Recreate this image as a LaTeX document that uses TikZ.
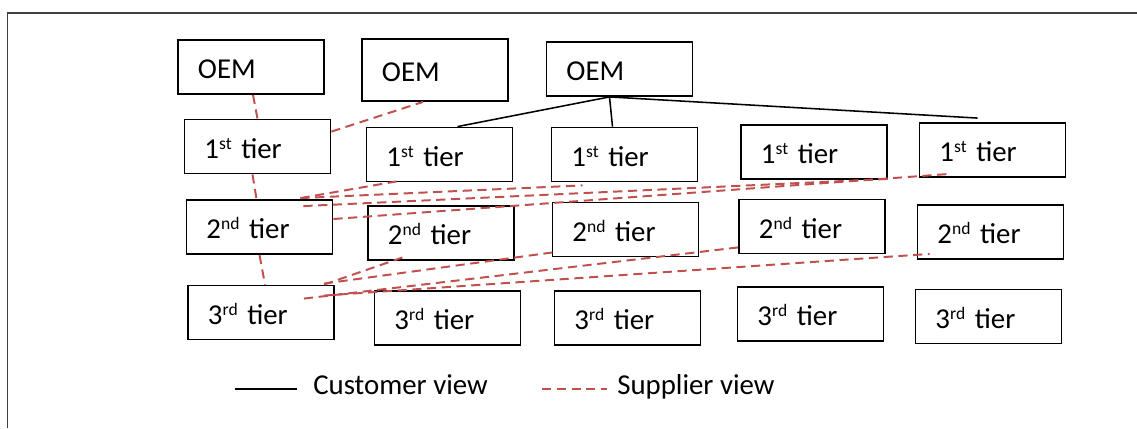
\documentclass[tikz,border=0pt]{standalone}
\usepackage{fontspec}
\setmainfont{Carlito}
\usetikzlibrary{calc}
\definecolor{tierLine}{RGB}{0,0,0}
\definecolor{tierDash}{RGB}{192,80,77}
\definecolor{tierFrame}{RGB}{64,64,64}
\definecolor{tierText}{RGB}{0,0,0}
\newcommand\tiersup[1]{\raisebox{6.5pt}{\fontsize{12.5}{12}\selectfont #1}}

\begin{document}
\begin{tikzpicture}[x=.025cm,y=-.025cm,
      tier/.style={draw=tierLine, line width=1.3pt, minimum width=3.65cm,
        minimum height=1.35cm, text width=2.65cm, inner xsep=.5cm,
        inner ysep=0pt, align=left, text=tierText,
        text height=17pt, text depth=0pt,
        font=\fontsize{20.5}{24}\selectfont},
      customer/.style={draw=tierLine, line width=1.1pt},
      supplier/.style={draw=tierDash, line width=1.4pt,
        dash pattern=on 6.5pt off 4pt},
      legend/.style={font=\fontsize{20.5}{24}\selectfont, text=tierText,
        anchor=base west, inner sep=0pt}]
      \useasboundingbox (0,0) rectangle (1137,428);
      \draw[tierFrame, line width=1.1pt] (1137,13) -- (7.5,13) -- (7.5,428);

      % manufacturers
      \node[tier] (oemA) at (251,67) {OEM};
      \node[tier, minimum height=1.55cm] (oemB) at (435,70) {OEM};
      \node[tier] (oemC) at (619.5,69) {OEM};

      % one row per tier
      \foreach \n/\x/\y in {a/257.5/146.5, b/439.5/154.5, c/624.5/154.5,
          d/814/152, e/992.5/150}
        \node[tier] (t1\n) at (\x,\y) {1\tiersup{st} tier};
      \foreach \n/\x/\y in {a/259.5/227, b/441/233, c/625.5/229.5,
          d/812/226.5, e/990.5/232}
        \node[tier] (t2\n) at (\x,\y) {2\tiersup{nd} tier};
      \foreach \n/\x/\y in {a/261/312.5, b/447.5/318, c/627.5/318,
          d/810.5/314, e/988.5/316.5}
        \node[tier] (t3\n) at (\x,\y) {3\tiersup{rd} tier};

      % customer view
      \coordinate (hub) at ($(oemC.south)+(-10,0)$);
      \draw[customer] (hub) -- ($(t1b.north)+(18,0)$);
      \draw[customer] (hub) -- ($(t1c.north)+(-12,0)$);
      \draw[customer] (hub) -- ($(t1e.north)+(-15,-4)$);

      % supplier view
      \draw[supplier] ($(oemA.south)+(2,0)$) -- (t1a.north);
      \draw[supplier] ($(t1a.south)+(-5,0)$) -- ($(t2a.north)+(-3,0)$);
      \draw[supplier] (t2a.south) -- ($(t3a.north)+(4,0)$);
      \draw[supplier] ($(t1a.north east)+(0,13)$) -- ($(oemB.south)+(-12,0)$);
      \draw[supplier] ($(t2a.north east)+(-33,-1)$) -- ($(t1b.south)+(-43,-1)$);
      \draw[supplier] ($(t2a.north east)+(-33,-1)$) -- ($(t1c.south)+(-42,3)$);
      \draw[supplier] ($(t2a.north east)+(-30,7)$) -- ($(t1d.south east)+(0,-1)$);
      \draw[supplier] ($(t2a.east)+(0,-8)$) -- ($(t1e.south west)+(31,-4)$);
      \draw[supplier] ($(t3a.north east)+(-11,0)$) -- ($(t2b.south)+(-34,-5)$);
      \draw[supplier] ($(t3a.north east)+(-11,-1)$) -- ($(t2c.south west)+(1,-5)$);
      \draw[supplier] ($(t3a.north east)+(-31,14)$) -- ($(t2d.south west)+(0,-7)$);
      \draw[supplier] ($(t3a.north east)+(-11,11)$) -- ($(t2e.south west)+(13,-6)$);

      % legend
      \node[legend] (custKey) at (313,394) {Customer view};
      \node[legend] (suppKey) at (617,394) {Supplier view};
      \coordinate (custA) at ($(custKey.base west)+(-78,-5)$);
      \coordinate (custB) at ($(custKey.base west)+(-16,-5)$);
      \coordinate (suppA) at ($(suppKey.base west)+(-75,-5)$);
      \coordinate (suppB) at ($(suppKey.base west)+(-10,-5)$);
      \draw[customer] (custA) -- (custB);
      \draw[supplier, line width=1.1pt] (suppA) -- (suppB);
    \end{tikzpicture}
\end{document}
